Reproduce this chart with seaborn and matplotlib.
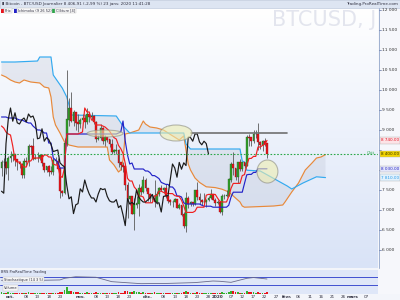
import numpy as np
import pandas as pd
import matplotlib
matplotlib.use("Agg")
import matplotlib.pyplot as plt
import seaborn as sns
from matplotlib.patches import Ellipse, Rectangle
from matplotlib.colors import LinearSegmentedColormap

sns.set_theme(style="white")
plt.rcParams['font.family'] = ['DejaVu Sans']

ORIGIN = pd.Timestamp("2019-10-01")
FIRST_DATE = "2019-09-27"

# ---------------- daily candles 27 Sep 2019 -> 23 Jan 2020 ----------------
opens = [8050, 8190, 8200, 8050,
         8300, 8340, 8390, 8260, 8200, 8150, 7880, 8220, 8200, 8590, 8580, 8270, 8300, 8300, 8370, 8170,
         8000, 8080, 7960, 7950, 8230, 8220, 8030, 7470, 7420, 8660, 9260, 9550, 9220, 9430, 9180,
         9150, 9250, 9300, 9200, 9400, 9320, 9350, 9200, 8780, 8800, 9030, 8720, 8810, 8760, 8640,
         8460, 8480, 8500, 8180, 8120, 8080, 7620, 7280, 7330, 6910, 7130, 7160, 7530, 7450, 7750,
         7550, 7400, 7300, 7300, 7200, 7400, 7540, 7510, 7530, 7340, 7230, 7200, 7200, 7260, 7060,
         7110, 6880, 6610, 7280, 7150, 7190, 7140, 7500, 7320, 7250, 7200, 7200, 7250, 7300, 7390, 7250,
         7170, 7180, 6950, 7340, 7350, 7360, 7760, 8150, 8050, 7820, 8190, 8020, 8180, 8110, 8820,
         8810, 8720, 8900, 8900, 8700, 8630, 8720, 8660]
closes = [8190, 8200, 8050, 8300,
          8340, 8390, 8260, 8200, 8150, 7880, 8220, 8200, 8590, 8580, 8270, 8300, 8300, 8370, 8170,
          8000, 8080, 7960, 7950, 8230, 8220, 8030, 7470, 7420, 8660, 9260, 9550, 9220, 9430, 9180, 9150,
          9250, 9300, 9200, 9400, 9320, 9350, 9200, 8780, 8800, 9030, 8720, 8810, 8760, 8640, 8460,
          8480, 8500, 8180, 8120, 8080, 7620, 7280, 7330, 6910, 7130, 7160, 7530, 7450, 7750, 7550,
          7400, 7300, 7300, 7200, 7400, 7540, 7510, 7530, 7340, 7230, 7200, 7200, 7260, 7060, 7110,
          6880, 6610, 7280, 7150, 7190, 7140, 7500, 7320, 7250, 7200, 7200, 7250, 7300, 7390, 7250, 7170,
          7180, 6950, 7340, 7350, 7360, 7760, 8150, 8050, 7820, 8190, 8020, 8180, 8110, 8820, 8810,
          8720, 8900, 8900, 8700, 8630, 8720, 8660, 8400]
highs = [8250, 8300, 8220, 8350,
         8480, 8400, 8400, 8280, 8220, 8170, 8300, 8330, 8650, 8620, 8800, 8400, 8450, 8400, 8400,
         8180, 8100, 8120, 8100, 8300, 8330, 8300, 8050, 7500, 8800, 10500, 9800, 9950, 9500, 9430, 9400,
         9300, 9400, 9380, 9550, 9450, 9450, 9370, 9220, 8880, 9150, 9070, 8880, 8830, 8780, 8780,
         8530, 8650, 8520, 8200, 8200, 8150, 7700, 7350, 7350, 7300, 7350, 7650, 7600, 7860, 7800,
         7560, 7420, 7400, 7750, 7480, 7580, 7620, 7580, 7650, 7400, 7270, 7260, 7300, 7280, 7170,
         7130, 6940, 7440, 7350, 7220, 7200, 7500, 7700, 7430, 7270, 7430, 7280, 7350, 7520, 7410, 7300,
         7250, 7200, 7400, 7400, 7500, 7800, 8200, 8450, 8050, 8200, 8280, 8200, 8200, 8880, 8900,
         8820, 9000, 9000, 9180, 8720, 8750, 8790, 8670]
lows = [7850, 8100, 7900, 7750,
        8200, 8220, 8100, 8000, 8050, 7800, 7800, 8100, 8100, 8400, 8250, 8270, 8200, 8250, 8100,
        7950, 7950, 7850, 7900, 7880, 8150, 8030, 7300, 7350, 7400, 8600, 9100, 9200, 9100, 9000, 8950,
        9050, 9200, 9050, 9150, 9200, 9250, 9150, 8700, 8740, 8760, 8650, 8600, 8700, 8570, 8400,
        8420, 8400, 8080, 8000, 7950, 7500, 6800, 7130, 6900, 6500, 7050, 6850, 7380, 7420, 7480,
        7230, 7200, 7250, 7080, 7160, 7350, 7480, 7420, 7300, 7170, 7120, 7070, 7190, 7040, 7020,
        6840, 6550, 6440, 7040, 7100, 7110, 7120, 7250, 7150, 7130, 7170, 7080, 7230, 7270, 7240, 7100,
        7150, 6920, 6880, 7270, 7320, 7350, 7700, 7870, 7750, 7680, 7970, 7970, 8050, 8100, 8600,
        8600, 8670, 8800, 8500, 8530, 8470, 8600, 8300]
volumes = [4, 3, 3, 4,
           3, 3, 3, 3, 2, 3, 3, 3, 4, 3, 3, 2, 2, 2, 3,
           3, 2, 3, 2, 3, 3, 3, 5, 4, 9, 14, 7, 7, 5, 4, 4,
           3, 3, 3, 4, 3, 3, 3, 4, 3, 3, 3, 3, 2, 3, 3,
           2, 2, 4, 3, 3, 6, 7, 4, 5, 7, 4, 5, 3, 4, 3,
           3, 3, 2, 4, 3, 3, 2, 2, 3, 3, 2, 2, 2, 3, 2,
           3, 5, 7, 4, 3, 2, 3, 4, 3, 2, 2, 2, 2, 3, 2, 2,
           2, 3, 4, 3, 3, 4, 6, 6, 4, 4, 3, 3, 3, 7, 5,
           4, 4, 3, 5, 3, 3, 3, 4]

# ---------------- Ichimoku (9 26 52) ----------------
tenkan = [9100, 9050, 8950, 8900,
          8875, 8600, 8250, 8200, 8200, 8125, 8075, 8075, 8225, 8225, 8300, 8300, 8300, 8300, 8300,
          8375, 8375, 8325, 8325, 8150, 8125, 8125, 7850, 7815, 8050, 8900, 8900, 8900, 8900, 8900, 8900,
          8925, 8950, 9550, 9450, 9450, 9250, 9250, 9125, 9125, 9125, 9100, 9075, 9025, 8975, 8885,
          8810, 8775, 8615, 8535, 8415, 8165, 7790, 7725, 7725, 7575, 7510, 7350, 7350, 7325, 7180,
          7180, 7180, 7180, 7355, 7355, 7470, 7470, 7440, 7415, 7415, 7410, 7410, 7360, 7345, 7335,
          7245, 7100, 6940, 6940, 6940, 6940, 6970, 7070, 7070, 7070, 7070, 7370, 7390, 7390, 7390, 7390,
          7300, 7220, 7200, 7200, 7200, 7340, 7540, 7665, 7665, 7665, 7665, 7860, 7885, 8115, 8290,
          8290, 8340, 8340, 8575, 8575, 8615, 8640, 8740]
kijun = [9325, 9325, 9325, 9300,
         9300, 9300, 9300, 9275, 9250, 9250, 9225, 9200, 9175, 9175, 9100, 9050, 9000, 9000, 8975,
         8925, 8925, 8675, 8675, 8300, 8250, 8200, 8050, 8050, 8050, 8900, 8900, 8900, 8900, 8900, 8900,
         8900, 8900, 8900, 8900, 8900, 8900, 8900, 8900, 8900, 8900, 8900, 8900, 8900, 8900, 8900,
         8900, 8900, 8925, 8950, 9225, 8725, 8375, 8150, 8175, 8025, 8025, 8025, 8025, 8025, 7975,
         7975, 7935, 7860, 7860, 7825, 7785, 7690, 7665, 7640, 7640, 7575, 7575, 7510, 7350, 7350,
         7325, 7180, 7150, 7150, 7150, 7150, 7150, 7150, 7150, 7120, 7095, 7095, 7095, 7095, 7070, 7070,
         7070, 7070, 7070, 7070, 7070, 7120, 7320, 7445, 7445, 7445, 7445, 7445, 7665, 7880, 7890,
         7890, 7940, 7940, 8030, 8030, 8030, 8030, 8030]
span_a_dates = ["2019-09-27", "2019-09-29", "2019-10-01", "2019-10-03", "2019-10-05", "2019-10-07",
                "2019-10-10", "2019-10-14", "2019-10-16", "2019-10-18", "2019-10-19", "2019-10-20",
                "2019-10-21", "2019-10-23", "2019-10-25", "2019-10-27", "2019-10-31", "2019-11-13",
                "2019-11-14", "2019-11-16", "2019-11-18", "2019-11-19", "2019-11-20", "2019-11-21",
                "2019-11-23", "2019-11-27", "2019-11-29", "2019-11-30", "2019-12-02", "2019-12-05",
                "2019-12-08", "2019-12-11", "2019-12-15", "2019-12-17", "2019-12-18", "2019-12-19",
                "2019-12-20", "2019-12-22", "2019-12-24", "2019-12-27", "2019-12-31", "2020-01-03",
                "2020-01-06", "2020-01-08", "2020-01-11", "2020-01-12", "2020-01-13", "2020-01-26",
                "2020-01-30", "2020-01-31", "2020-02-03", "2020-02-06", "2020-02-09", "2020-02-12",
                "2020-02-14", "2020-02-16", "2020-02-18"]
span_a = [10375, 10325, 10250, 10200, 10175, 10250, 10200, 10175, 10075, 10050, 9825, 9325,
          9125, 8925, 8700, 8625, 8575, 8575, 8250, 8125, 7950, 8000, 8250, 8900,
          8925, 9000, 9225, 9150, 9075, 9050, 9000, 8890, 8750, 8850, 8500, 8150,
          8000, 7800, 7690, 7580, 7560, 7520, 7450, 7350, 7200, 7100, 7070, 7100,
          7125, 7200, 7450, 7675, 8000, 8175, 8300, 8325, 8385]
span_b_dates = ["2019-09-27", "2019-10-03", "2019-10-13", "2019-10-14", "2019-10-19", "2019-10-20",
                "2019-10-24", "2019-10-26", "2019-10-27", "2019-10-28", "2019-11-17", "2019-11-20",
                "2019-11-23", "2019-12-17", "2019-12-18", "2019-12-20", "2020-01-11", "2020-01-12",
                "2020-01-13", "2020-01-14", "2020-01-20", "2020-01-28", "2020-02-01", "2020-02-03",
                "2020-02-08", "2020-02-14", "2020-02-18"]
span_b = [10700, 10700, 10725, 10825, 10825, 10375, 10050, 9825, 9625, 9375, 9350, 9100,
          8925, 8925, 8650, 8525, 8525, 8225, 8195, 7995, 7975, 7725, 7600, 7525,
          7675, 7830, 7810]

# ---------------- Stochastique (14 3 5) ----------------
stoch_dates = ["2019-09-27", "2019-10-05", "2019-10-14", "2019-10-23", "2019-10-25", "2019-10-30",
               "2019-11-08", "2019-11-15", "2019-11-21", "2019-11-28", "2019-12-10", "2019-12-22",
               "2019-12-30", "2020-01-02", "2020-01-07", "2020-01-14", "2020-01-17", "2020-01-23"]
stoch = [55, 58, 55, 58, 70, 82, 78, 45, 38, 30, 32, 38, 50, 48, 40, 70, 76, 65]

# ---------------- annotations ----------------
price_ticks = [6000, 6500, 7000, 7500, 8000, 8500, 9000, 9500, 10000, 10500, 11000, 11500, 12000]
x_tick_dates = ["2019-10-01", "2019-10-08", "2019-10-13", "2019-10-18", "2019-10-23", "2019-11-01",
                "2019-11-08", "2019-11-13", "2019-11-18", "2019-11-23", "2019-12-01", "2019-12-08",
                "2019-12-13", "2019-12-18", "2019-12-23", "2019-12-28", "2020-01-01", "2020-01-07",
                "2020-01-12", "2020-01-17", "2020-01-22", "2020-01-27", "2020-02-01", "2020-02-06",
                "2020-02-11", "2020-02-16", "2020-02-21", "2020-02-26", "2020-03-01", "2020-03-07"]
x_tick_labels = ["oct.", "08", "13", "18", "23", "nov.", "08", "13", "18", "23", "déc.", "08",
                 "13", "18", "23", "28", "2020", "07", "12", "17", "22", "27", "févr.", "06",
                 "11", "16", "21", "26", "mars", "07"]
resistance_level = 8920
resistance_dates = ["2019-12-20", "2020-02-01"]


def to_days(dates):
    return np.asarray((pd.to_datetime(pd.Series(dates)) - ORIGIN).dt.days, dtype=float)


first = (pd.Timestamp(FIRST_DATE) - ORIGIN).days
days = np.arange(first, first + len(closes), dtype=float)
o = np.array(opens, float); c = np.array(closes, float)
h = np.array(highs, float); l = np.array(lows, float)
up = c >= o

W, H = 400, 300
fig = plt.figure(figsize=(4, 3), dpi=100)
fig.patch.set_facecolor("#f3f5fa")

def px_axes(x0, y0, x1, y1):
    return fig.add_axes([x0 / W, 1 - y1 / H, (x1 - x0) / W, (y1 - y0) / H])

PX_PER_DAY = 2.25
X0_PX = 10.5
xlim = (-X0_PX / PX_PER_DAY, (378 - X0_PX) / PX_PER_DAY)

grad = LinearSegmentedColormap.from_list("g", ["#ffffff", "#d9e3f7"])

# ---------------- main panel ----------------
ax = px_axes(0, 8, 378, 268)
ylim = (12000 - (268 - 10) * 25, 12000 - (8 - 10) * 25)
ax.imshow(np.linspace(0, 1, 256).reshape(-1, 1), extent=[xlim[0], xlim[1], ylim[0], ylim[1]],
          aspect="auto", cmap=grad, origin="upper", zorder=0)
ax.text(376 / 378, 1 - 12.5 / 260, "BTCUSD, J", transform=ax.transAxes, fontsize=15,
        color="#e3e5ee", ha="right", va="center", zorder=1)

# cloud
da, db = to_days(span_a_dates), to_days(span_b_dates)
ax.fill(np.concatenate([da, db[::-1]]), np.concatenate([span_a, span_b[::-1]]),
        color="#c3c9d8", alpha=0.35, lw=0, zorder=1)

# candles
ax.vlines(days, l, h, color="#5a5a5a", lw=0.6, zorder=3)
ax.bar(days, np.abs(c - o) + 8, bottom=np.minimum(o, c), width=0.8,
       color=np.where(up, "#33a02c", "#e8141c"), edgecolor=np.where(up, "#1f5f1a", "#8a1010"),
       lw=0.25, zorder=4)

lw = 0.85
sns.lineplot(x=da, y=span_a, ax=ax, color="#e8893a", lw=lw, zorder=2, estimator=None, sort=False)
sns.lineplot(x=db, y=span_b, ax=ax, color="#33aaf0", lw=lw, zorder=2, estimator=None, sort=False)
sns.lineplot(x=days, y=kijun, ax=ax, color="#2323c8", lw=lw, zorder=5, estimator=None, sort=False)
sns.lineplot(x=days, y=tenkan, ax=ax, color="#f02020", lw=lw, zorder=5, estimator=None, sort=False)
sns.lineplot(x=days[:-26], y=closes[26:], ax=ax, color="#1a1a1a", lw=lw, zorder=5,
             estimator=None, sort=False)

# annotations
ax.axhline(closes[-1], color="#2ca84a", lw=0.8, ls=(0, (1.5, 1.5)), zorder=6)
rd = to_days(resistance_dates)
ax.plot(rd, [resistance_level, resistance_level], color="#707070", lw=1.2, zorder=6)
for cx, cy, ew, eh in [(73.6, 8925, 14.2, 400), (42.0, 8912, 16.0, 175), (114.2, 7962, 9.3, 575)]:
    ax.add_patch(Ellipse((cx, cy), ew, eh, facecolor="#eeeeb0", edgecolor="#8c8c80",
                         alpha=0.6, lw=0.8, zorder=7))

ax.set_xlim(*xlim); ax.set_ylim(*ylim)
ax.set_xticks([]); ax.set_yticks([])
for s in ax.spines.values():
    s.set_visible(False)

# ---------------- right price scale ----------------
def y_of(p):
    return 10 + (12000 - p) / 25

fig.add_artist(Rectangle((378 / W, 0.02), 22 / W, 0.955, transform=fig.transFigure,
                         facecolor="#f6f7fb", edgecolor="none", zorder=-1))
fig.add_artist(plt.Line2D([378.5 / W, 378.5 / W], [1 - 268 / H, 1 - 8 / H], color="#9fb0d0",
                          lw=0.7, transform=fig.transFigure))

box_values = [tenkan[-1], closes[-1], kijun[-1], span_b[-1]]
for p in price_ticks:
    yy = 1 - y_of(p) / H
    fig.add_artist(plt.Line2D([378.5 / W, 380.5 / W], [yy, yy], color="#6070a0", lw=0.5,
                              transform=fig.transFigure))
    if min(abs(y_of(p) - y_of(v)) for v in box_values) < 5:
        continue
    fig.text(381.5 / W, yy, f"{p:,}".replace(",", " "), fontsize=3.2, color="#333333",
             va="center", ha="left")

def fmt(v):
    return f"{v:,.2f}".replace(",", " ")

for val, fc, tc in [(tenkan[-1], "#fde3e6", "#e01020"), (closes[-1], "#f2d400", "#303000"),
                    (kijun[-1], "#e4e6fb", "#2020c0"), (span_b[-1], "#e1f1fd", "#2a9ae8")]:
    fig.text(381 / W, 1 - y_of(val) / H, fmt(val), fontsize=3.0, color=tc, va="center",
             ha="left", bbox=dict(boxstyle="square,pad=0.3", fc=fc, ec="#b0b0b0", lw=0.3))
fig.text(375 / W, 1 - (y_of(closes[-1]) - 1) / H, "Clôt", fontsize=3.0, color="#2ca84a",
         va="center", ha="right")

# ---------------- title & legend ----------------
fig.add_artist(Rectangle((0, 1 - 7.5 / H), 1, 7.5 / H, transform=fig.transFigure,
                         facecolor="#dde5f2", edgecolor="#b7c3d8", lw=0.4))
fig.text(2 / W, 1 - 3.8 / H, "▮ Bitcoin - BTC/USD Journalier 8 406,91 (-2,99 %) 23 janv. 2020 11:41:28",
         fontsize=3.0, color="#303040", va="center")
fig.text(398 / W, 1 - 3.8 / H, "Trading.ProRealTime.com", fontsize=3.0, color="#303040",
         va="center", ha="right")
for x0, lab, col in [(1, "Prix", "#e8141c"), (14, "Ichimoku (9 26 52)", "#2323c8"),
                     (52, "Clôture [4]", "#2ca84a")]:
    fig.add_artist(Rectangle((x0 / W, 1 - 12.5 / H), 3 / W, 4 / H, transform=fig.transFigure,
                             facecolor=col, edgecolor="none"))
    fig.text((x0 + 4) / W, 1 - 10.5 / H, lab, fontsize=2.5, color="#303040", va="center",
             bbox=dict(boxstyle="square,pad=0.15", fc="#f7f7f7", ec="#c0c0c0", lw=0.3))

# ---------------- stochastic panel ----------------
axs = px_axes(0, 270, 378, 287)
axs.set_facecolor("#dfe7f8")
axs.axhline(80, color="#4050d0", lw=0.7)
axs.axhline(20, color="#4050d0", lw=0.7)
sns.lineplot(x=to_days(stoch_dates), y=stoch, ax=axs, color="#6a6a8a", lw=0.6,
             estimator=None, sort=False)
axs.set_xlim(*xlim); axs.set_ylim(5, 132.5)
axs.set_xticks([]); axs.set_yticks([])
for s in axs.spines.values():
    s.set_visible(False)
fig.text(1 / W, 1 - 272.5 / H, "BRS ProRealTime Trading", fontsize=2.6, color="#303040", va="center")
fig.text(4 / W, 1 - 279.5 / H, "Stochastique (14 3 5)", fontsize=2.6, color="#303040", va="center",
         bbox=dict(boxstyle="square,pad=0.15", fc="#f7f7f7", ec="#c0c0c0", lw=0.3))

# ---------------- volume panel ----------------
axv = px_axes(0, 287, 378, 294)
axv.set_facecolor("#dfe7f8")
axv.bar(days, volumes, width=0.7, color=np.where(up, "#33b02c", "#e8141c"), lw=0)
axv.set_xlim(*xlim); axv.set_ylim(0, max(volumes) * 1.05)
axv.set_xticks([]); axv.set_yticks([])
for s in axv.spines.values():
    s.set_visible(False)
fig.text(4 / W, 1 - 288 / H, "Volume", fontsize=2.6, color="#303040", va="center",
         bbox=dict(boxstyle="square,pad=0.15", fc="#f7f7f7", ec="#c0c0c0", lw=0.3))

# ---------------- date axis ----------------
for d, lab in zip(to_days(x_tick_dates), x_tick_labels):
    xp = X0_PX + d * PX_PER_DAY
    is_day = lab.isdigit() and len(lab) == 2
    fig.text(xp / W, 1 - 296.5 / H, lab, fontsize=3.0, color="#303040", ha="center",
             va="center", fontweight="normal" if is_day else "bold")

fig.savefig("out.png", dpi=100)
